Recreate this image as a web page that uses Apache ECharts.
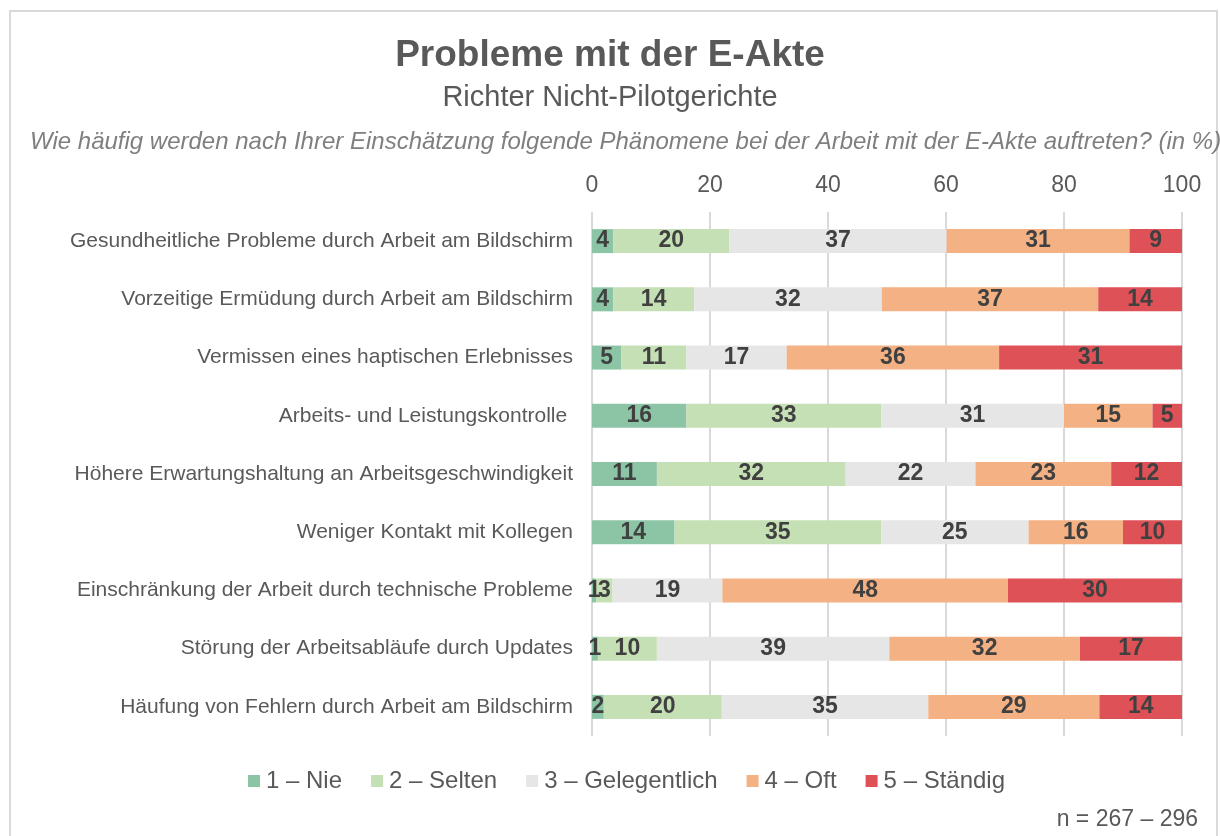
<!DOCTYPE html>
<html>
<head>
<meta charset="utf-8">
<script src="https://cdn.jsdelivr.net/npm/echarts@6/dist/echarts.min.js"></script>
<style>
  html, body { margin: 0; padding: 0; background: #fff; }
  #chart { width: 1220px; height: 836px; }
</style>
</head>
<body>
<div id="chart"></div>
<script>
// Kategorien (von oben nach unten)
var categories = [
  'Gesundheitliche Probleme durch Arbeit am Bildschirm',
  'Vorzeitige Ermüdung durch Arbeit am Bildschirm',
  'Vermissen eines haptischen Erlebnisses',
  'Arbeits- und Leistungskontrolle ',
  'Höhere Erwartungshaltung an Arbeitsgeschwindigkeit',
  'Weniger Kontakt mit Kollegen',
  'Einschränkung der Arbeit durch technische Probleme',
  'Störung der Arbeitsabläufe durch Updates',
  'Häufung von Fehlern durch Arbeit am Bildschirm'
];

var seriesNames = ['1 – Nie', '2 – Selten', '3 – Gelegentlich', '4 – Oft', '5 – Ständig'];

// Anteile in % (geschätzt, Beschriftung gerundet)
var nie          = [3.6, 3.6, 5, 16, 11, 14, 0.7, 1.0, 2];
var selten       = [19.7, 13.7, 11, 33, 32, 35, 2.8, 10.0, 20];
var gelegentlich = [36.8, 31.8, 17, 31, 22, 25, 18.6, 39.4, 35];
var oft          = [31.0, 36.7, 36, 15, 23, 16, 48.4, 32.3, 29];
var staendig     = [8.9, 14.2, 31, 5, 12, 10, 29.5, 17.3, 14];

var colors = ['#8cc5a6', '#c6e0b5', '#e6e6e6', '#f4b183', '#de5157'];
var FONT = 'Liberation Sans, Arial, sans-serif';

var chart = echarts.init(document.getElementById('chart'));

var seriesData = [nie, selten, gelegentlich, oft, staendig];

var series = seriesData.map(function (d, i) {
  return {
    name: seriesNames[i],
    type: 'bar',
    stack: 'total',
    data: d,
    barWidth: 24,
    itemStyle: { color: colors[i] },
    label: {
      show: true,
      position: 'inside',
      color: '#404040',
      fontWeight: 'bold',
      fontSize: 23,
      fontFamily: FONT,
      formatter: function (p) { return Math.round(p.value); }
    },
    emphasis: { disabled: true }
  };
});

var option = {
  animation: false,
  textStyle: { fontFamily: FONT },
  title: [{
    text: 'Probleme mit der E-Akte',
    left: 'center',
    top: 32,
    textStyle: { fontSize: 37, fontWeight: 'bold', color: '#595959', fontFamily: FONT }
  }, {
    text: 'Richter Nicht-Pilotgerichte',
    left: 'center',
    top: 78,
    textStyle: { fontSize: 29, fontWeight: 'normal', color: '#595959', fontFamily: FONT }
  }],
  graphic: [{
    type: 'rect',
    shape: { x: 10, y: 11, width: 1207, height: 840 },
    style: { fill: 'none', stroke: '#d9d9d9', lineWidth: 2 },
    silent: true
  }, {
    type: 'text',
    left: 30,
    top: 130,
    style: {
      text: 'Wie häufig werden nach Ihrer Einschätzung folgende Phänomene bei der Arbeit mit der E-Akte auftreten? (in %)',
      fontSize: 24,
      fontStyle: 'italic',
      fill: '#7f7f7f',
      fontFamily: FONT
    }
  }, {
    type: 'text',
    right: 22,
    top: 808,
    style: {
      text: 'n = 267 – 296',
      fontSize: 23,
      fill: '#595959',
      fontFamily: FONT
    }
  }],
  legend: {
    data: seriesNames,
    left: 243,
    top: 764,
    icon: 'rect',
    itemWidth: 12,
    itemHeight: 12,
    itemGap: 29,
    textStyle: { fontSize: 24, color: '#595959', padding: [0, 0, 0, 1] },
    selectedMode: false
  },
  grid: { left: 592, right: 38, top: 212, bottom: 100 },
  xAxis: {
    type: 'value',
    position: 'top',
    min: 0,
    max: 100,
    interval: 20,
    axisLine: { show: false },
    axisTick: { show: false },
    axisLabel: { fontSize: 23, color: '#595959', margin: 15 },
    splitLine: { lineStyle: { color: '#d9d9d9', width: 2 } }
  },
  yAxis: {
    type: 'category',
    inverse: true,
    data: categories,
    axisLine: { show: false },
    axisTick: { show: false },
    axisLabel: { fontSize: 21, color: '#595959', margin: 19 }
  },
  series: series
};

chart.setOption(option);
</script>
</body>
</html>
